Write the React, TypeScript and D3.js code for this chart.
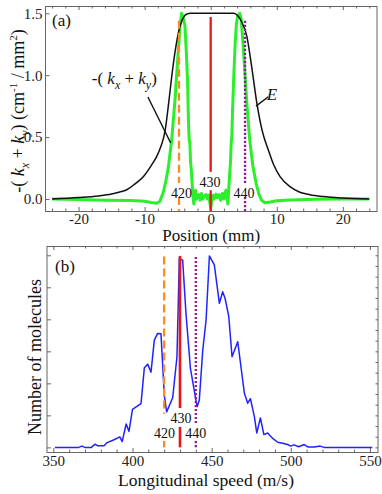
import React, { useEffect, useRef } from 'react';
import * as d3 from 'd3';

// ---- panel (a): field strength E and -(kx + ky) vs position (mm) ----
const fieldE: [number, number][] = [
  [-24, 0.0], [-20, 0.012], [-17, 0.025], [-15, 0.04], [-13.5, 0.06], [-12.7, 0.075],
  [-11.5, 0.12], [-10.2, 0.18], [-9, 0.27], [-8.2, 0.34], [-7.5, 0.43], [-6.9, 0.55],
  [-6.35, 0.78], [-5.8, 1.03], [-5.3, 1.22], [-4.9, 1.34], [-4.5, 1.42], [-4.1, 1.47],
  [-3.6, 1.495], [-3, 1.5], [0, 1.5], [3.5, 1.5], [4.1, 1.48], [4.7, 1.43], [5.45, 1.32],
  [6.2, 1.07], [7.0, 0.77], [7.8, 0.55], [8.7, 0.4], [9.5, 0.28], [10.5, 0.18], [12, 0.1],
  [13.5, 0.055], [15, 0.035], [17, 0.02], [20, 0.008], [24, 0.0],
];

const kSum: [number, number][] = [
  [-24, 0.0], [-20, -0.005], [-16, -0.01], [-12, -0.012], [-10, -0.018], [-9, -0.028],
  [-8.2, -0.035], [-7.7, -0.02], [-7.2, 0.05], [-6.8, 0.14], [-6.4, 0.26], [-5.9, 0.48],
  [-5.4, 0.8], [-4.9, 1.2], [-4.6, 1.42], [-4.4, 1.5], [-4.2, 1.47], [-3.9, 1.4],
  [-3.7, 1.2], [-3.5, 0.95], [-3.35, 0.6], [-3.25, 0.48], [-3.15, 0.45], [-3.05, 0.3],
  [-2.95, 0.25], [-2.8, 0.12], [-2.7, 0.03], [-2.55, -0.04], [-2.45, 0.03], [-2.3, 0.07],
  [-2.15, 0.0], [-2.0, 0.02], [-1.8, 0.035], [-1.6, -0.01], [-1.4, 0.045], [-1.2, 0.0],
  [-1.0, 0.02], [-0.7, 0.035], [-0.5, 0.0], [-0.3, 0.03], [-0.15, -0.02], [0, -0.075],
  [0.15, -0.02], [0.3, 0.03], [0.5, 0.0], [0.8, 0.04], [1.0, 0.01], [1.3, 0.035],
  [1.5, -0.01], [1.8, 0.045], [2.0, 0.0], [2.3, 0.07], [2.45, 0.02], [2.6, -0.04],
  [2.7, 0.05], [2.85, 0.18], [3.0, 0.3], [3.1, 0.45], [3.2, 0.5], [3.3, 0.7], [3.5, 1.0],
  [3.7, 1.25], [3.9, 1.42], [4.1, 1.48], [4.4, 1.5], [4.6, 1.46], [4.9, 1.25], [5.2, 1.0],
  [5.5, 0.75], [5.9, 0.48], [6.4, 0.26], [6.9, 0.12], [7.3, 0.04], [7.7, -0.01],
  [8.2, -0.03], [9, -0.025], [10, -0.015], [12, -0.008], [16, -0.003], [20, 0.0], [24, 0.0],
];

// ---- panel (b): number of molecules vs longitudinal speed (m/s) ----
const speedHist: [number, number][] = [
  [351, 0], [366, 0], [368, 0.4], [370, 0], [374, 0], [376.4, 1.0], [378, 0.5], [382, 0.5],
  [384, 1.5], [388, 2.3], [392, 3.3], [393.5, 1.8], [396, 7.3], [397.8, 5.0], [400, 11.9],
  [405.4, 13.7], [407.5, 24.9], [409.6, 26.0], [411.7, 23.5], [413.8, 33.5], [415.9, 35.6],
  [418, 35.5], [420.1, 16.3], [421.6, 11.1], [425.4, 15.5], [428.1, 28.3], [429.6, 59.0],
  [431.7, 58.5], [433.8, 41.8], [436.6, 24.7], [440.8, 12.7], [442.2, 14.7], [444.4, 30.4],
  [446.5, 39.8], [448.6, 59.8], [451.7, 57.0], [454.9, 45.0], [457, 48.6], [458.5, 46.5],
  [460.8, 41.0], [462.9, 28.3], [466.5, 33.0], [470.7, 16.9], [472.8, 13.8], [474.5, 15.2],
  [477, 9.6], [478.5, 4.5], [480.8, 9.2], [483, 4.0], [485.4, 4.5], [488.6, 2.8],
  [491.7, 1.6], [494.9, 1.3], [498, 0.9], [500, 0.4], [502, 0.8], [505, 0.2], [508.5, 0.9],
  [511, 0.1], [515, 0.1], [518.5, 0.4], [521, 0], [551.5, 0],
];

// ---- markers: 420 / 430 / 440 m/s ----
const markerLabels = ['420', '430', '440'];
const markerSpeeds = [420, 430, 440];
const markerPos = [-4.8, 0, 5.2];
const markerColors = ['#ff8c1a', '#e8161b', '#8e1c96'];
const markerDash = ['8,4', null, '2.2,1.8'];
// segments (value units) drawn for each marker line, gaps leave room for labels
const markerSegsA: [number, number][][] = [
  [[1.44, 0.13], [0.016, -0.097]],
  [[1.47, 0.22], [0.07, -0.097]],
  [[1.44, 0.13], [0.016, -0.097]],
];
const markerSegsB: [number, number][][] = [
  [[59.6, 10.5], [2.0, 0]],
  [[59.8, 12.3], [6.4, 0]],
  [[59.5, 7.0], [2.0, 0]],
];
const labelPosA: [number, number][] = [[-4.4, 0.004], [-0.1, 0.097], [5.05, 0.004]];
const labelPosB: [number, number][] = [[420.2, 2.8], [430.6, 7.5], [440, 2.8]];

const xTicksA = [-20, -10, 0, 10, 20];
const yTicksA = [0, 0.5, 1.0, 1.5];
const xTicksB = [350, 400, 450, 500, 550];
const yTicksB = [0, 10, 20, 30, 40, 50, 60];

const FONT = "'Liberation Serif', 'DejaVu Serif', serif";

const App = () => {
  const ref = useRef<SVGSVGElement>(null);

  useEffect(() => {
    if (!ref.current) return;
    const svg = d3.select(ref.current);
    svg.selectAll('*').remove();

    const frameColor = '#666';

    const addAxis = (axis: any, tx: number, ty: number) => {
      const g = svg.append('g').attr('transform', `translate(${tx},${ty})`).call(axis);
      g.select('.domain').remove();
      g.selectAll('line').attr('stroke', frameColor);
      g.attr('font-family', null).attr('font-size', 15);
      g.selectAll('text').attr('fill', '#222').style('font-family', FONT);
      return g;
    };
    const fmtX = (d: any) => (d < 0 ? '-' + Math.abs(d) : String(d));

    // =========== panel (a) ===========
    const A = { l: 45.5, r: 377, t: 6, b: 211 };
    const xA = d3.scaleLinear().domain([-25, 25.17]).range([A.l, A.r]);
    const yA = d3.scaleLinear().domain([-0.097, 1.559]).range([A.b, A.t]);
    const minorA = d3.range(-24, 25, 2).filter((d) => d % 10 !== 0);

    addAxis(d3.axisBottom(xA).tickValues(xTicksA).tickSize(-4).tickPadding(2.5).tickFormat(fmtX), 0, A.b);
    addAxis(d3.axisBottom(xA).tickValues(minorA).tickSize(-2.5).tickFormat(() => ''), 0, A.b);
    addAxis(d3.axisTop(xA).tickValues(xTicksA).tickSize(-4).tickFormat(() => ''), 0, A.t);
    addAxis(d3.axisTop(xA).tickValues(minorA).tickSize(-2.5).tickFormat(() => ''), 0, A.t);
    addAxis(d3.axisLeft(yA).tickValues(yTicksA).tickSize(-4).tickPadding(3).tickFormat(d3.format('.1f')), A.l, 0);

    const lineE = d3.line<[number, number]>().x((d) => xA(d[0])).y((d) => yA(d[1])).curve(d3.curveMonotoneX);
    const lineK = d3.line<[number, number]>().x((d) => xA(d[0])).y((d) => yA(d[1]));

    svg.append('path').datum(kSum).attr('fill', 'none').attr('stroke', '#2bef2b')
      .attr('stroke-width', 3).attr('stroke-linejoin', 'round').attr('d', lineK);
    svg.append('path').datum(fieldE).attr('fill', 'none').attr('stroke', '#111')
      .attr('stroke-width', 1.5).attr('d', lineE);

    const txt = (x: number, y: number, size: number) =>
      svg.append('text').attr('x', x).attr('y', y).attr('font-size', size)
        .attr('fill', '#111').style('font-family', FONT);

    markerPos.forEach((p, i) => {
      markerSegsA[i].forEach(([v0, v1]) => {
        const ln = svg.append('line')
          .attr('x1', xA(p)).attr('x2', xA(p))
          .attr('y1', yA(v0)).attr('y2', yA(v1))
          .attr('stroke', markerColors[i]).attr('stroke-width', 2.3);
        if (markerDash[i]) ln.attr('stroke-dasharray', markerDash[i] as string);
      });
      txt(xA(labelPosA[i][0]), yA(labelPosA[i][1]), 14).attr('text-anchor', 'middle').text(markerLabels[i]);
    });

    // annotations
    const ann = txt(xA(-18), yA(0.93), 17);
    ann.append('tspan').text('-( ');
    ann.append('tspan').attr('font-style', 'italic').text('k');
    ann.append('tspan').attr('font-style', 'italic').attr('font-size', 12).attr('dy', 5).text('x');
    ann.append('tspan').attr('dy', -5).text(' + ');
    ann.append('tspan').attr('font-style', 'italic').text('k');
    ann.append('tspan').attr('font-style', 'italic').attr('font-size', 12).attr('dy', 5).text('y');
    ann.append('tspan').attr('dy', -5).text(')');
    svg.append('line').attr('x1', xA(-9.5)).attr('y1', yA(0.824)).attr('x2', xA(-6.05)).attr('y2', yA(0.452))
      .attr('stroke', '#111').attr('stroke-width', 1.4);

    txt(xA(8.5), yA(0.8), 17).attr('font-style', 'italic').text('E');
    svg.append('line').attr('x1', xA(8.72)).attr('y1', yA(0.826)).attr('x2', xA(6.86)).attr('y2', yA(0.75))
      .attr('stroke', '#111').attr('stroke-width', 1.4);

    txt(52, 26, 17).text('(a)');

    svg.append('rect').attr('x', A.l).attr('y', A.t + 0.5).attr('width', A.r - A.l).attr('height', A.b - A.t)
      .attr('fill', 'none').attr('stroke', frameColor);

    // axis titles (a)
    txt((A.l + A.r) / 2, 241, 17).attr('text-anchor', 'middle').text('Position (mm)');

    const yt = svg.append('text').attr('transform', 'translate(24,111) rotate(-90)')
      .attr('text-anchor', 'middle').attr('font-size', 18).attr('fill', '#111').style('font-family', FONT);
    yt.append('tspan').text('-( ');
    yt.append('tspan').attr('font-style', 'italic').text('k');
    yt.append('tspan').attr('font-style', 'italic').attr('font-size', 12).attr('dy', 5).text('x');
    yt.append('tspan').attr('dy', -5).text(' + ');
    yt.append('tspan').attr('font-style', 'italic').text('k');
    yt.append('tspan').attr('font-style', 'italic').attr('font-size', 12).attr('dy', 5).text('y');
    yt.append('tspan').attr('dy', -5).text(') (cm');
    yt.append('tspan').attr('font-size', 11).attr('dy', -7).text('-1');
    yt.append('tspan').attr('dy', 7).text(' / mm');
    yt.append('tspan').attr('font-size', 11).attr('dy', -7).text('2');
    yt.append('tspan').attr('dy', 7).text(')');

    // =========== panel (b) ===========
    const B = { l: 47, r: 378, t: 246, b: 452 };
    const xB = d3.scaleLinear().domain([346, 555.1]).range([B.l, B.r]);
    const yB = d3.scaleLinear().domain([-1.44, 62.9]).range([B.b, B.t]);
    const minorB = d3.range(350, 556, 10).filter((d) => d % 50 !== 0);
    const rightB = d3.range(0, 62, 10 / 3);

    addAxis(d3.axisBottom(xB).tickValues(xTicksB).tickSize(-4).tickPadding(3).tickFormat(fmtX), 0, B.b);
    addAxis(d3.axisBottom(xB).tickValues(minorB).tickSize(-2.5).tickFormat(() => ''), 0, B.b);
    addAxis(d3.axisTop(xB).tickValues(xTicksB).tickSize(-4).tickFormat(() => ''), 0, B.t);
    addAxis(d3.axisTop(xB).tickValues(minorB).tickSize(-2.5).tickFormat(() => ''), 0, B.t);
    addAxis(d3.axisLeft(yB).tickValues(yTicksB).tickSize(-4).tickFormat(() => ''), B.l, 0);
    addAxis(d3.axisRight(yB).tickValues(rightB).tickSize(-2.5).tickFormat(() => ''), B.r, 0);

    const lineB = d3.line<[number, number]>().x((d) => xB(d[0])).y((d) => yB(d[1]));
    svg.append('path').datum(speedHist).attr('fill', 'none').attr('stroke', '#2222ff')
      .attr('stroke-width', 1.5).attr('stroke-linejoin', 'round').attr('d', lineB);

    markerSpeeds.forEach((s, i) => {
      markerSegsB[i].forEach(([v0, v1]) => {
        const ln = svg.append('line')
          .attr('x1', xB(s)).attr('x2', xB(s))
          .attr('y1', yB(v0)).attr('y2', yB(v1))
          .attr('stroke', markerColors[i]).attr('stroke-width', i === 1 ? 2.6 : 2.3);
        if (markerDash[i]) ln.attr('stroke-dasharray', markerDash[i] as string);
      });
      txt(xB(labelPosB[i][0]), yB(labelPosB[i][1]), 14).attr('text-anchor', 'middle').text(markerLabels[i]);
    });

    txt(55, 272, 17).text('(b)');

    svg.append('rect').attr('x', B.l).attr('y', B.t + 0.5).attr('width', B.r - B.l).attr('height', B.b - B.t)
      .attr('fill', 'none').attr('stroke', frameColor);

    txt(206, 486, 17.5).attr('text-anchor', 'middle').text('Longitudinal speed (m/s)');
    svg.append('text').attr('transform', 'translate(41,357) rotate(-90)')
      .attr('text-anchor', 'middle').attr('font-size', 18).attr('fill', '#111')
      .style('font-family', FONT).text('Number of molecules');
  }, []);

  return (
    <svg ref={ref} width={382} height={494}
      style={{ position: 'absolute', left: 0, top: 0, display: 'block', background: '#fff', fontFamily: FONT }} />
  );
};

export default App;
